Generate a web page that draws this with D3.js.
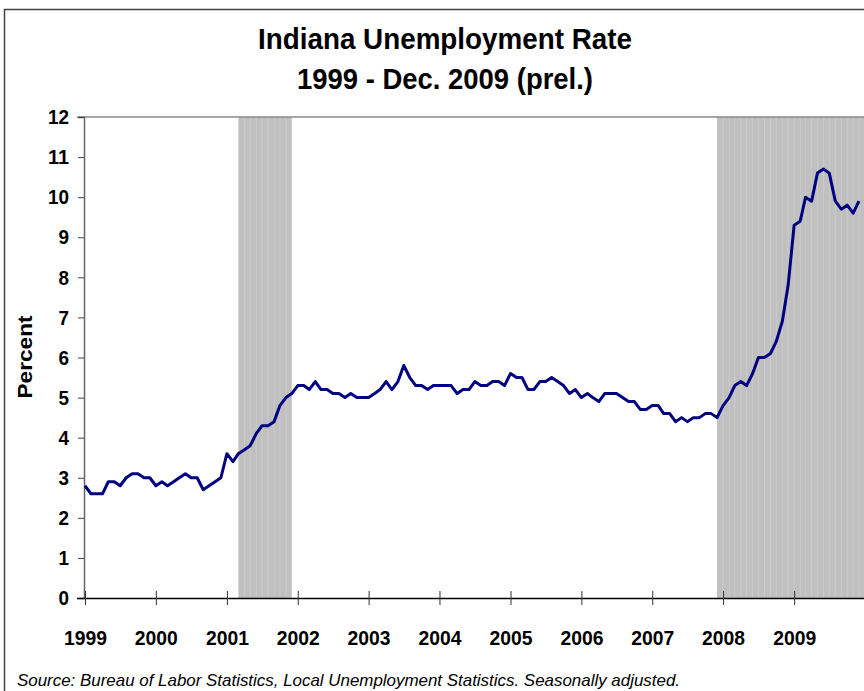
<!DOCTYPE html>
<html>
<head>
<meta charset="utf-8">
<script src="https://cdn.jsdelivr.net/npm/d3@7"></script>
<style>
  body { margin: 0; background: #fff; }
  svg { display: block; }
</style>
</head>
<body>
<div id="chart"></div>
<script>
// 月度失业率 1999.01 - 2009.12
var rates1999 = [2.8, 2.6, 2.6, 2.6, 2.9, 2.9, 2.8, 3.0, 3.1, 3.1, 3.0, 3.0]
var rates2000 = [2.8, 2.9, 2.8, 2.9, 3.0, 3.1, 3.0, 3.0, 2.7, 2.8, 2.9, 3.0]
var rates2001 = [3.6, 3.4, 3.6, 3.7, 3.8, 4.1, 4.3, 4.3, 4.4, 4.8, 5.0, 5.1]
var rates2002 = [5.3, 5.3, 5.2, 5.4, 5.2, 5.2, 5.1, 5.1, 5.0, 5.1, 5.0, 5.0]
var rates2003 = [5.0, 5.1, 5.2, 5.4, 5.2, 5.4, 5.8, 5.5, 5.3, 5.3, 5.2, 5.3]
var rates2004 = [5.3, 5.3, 5.3, 5.1, 5.2, 5.2, 5.4, 5.3, 5.3, 5.4, 5.4, 5.3]
var rates2005 = [5.6, 5.5, 5.5, 5.2, 5.2, 5.4, 5.4, 5.5, 5.4, 5.3, 5.1, 5.2]
var rates2006 = [5.0, 5.1, 5.0, 4.9, 5.1, 5.1, 5.1, 5.0, 4.9, 4.9, 4.7, 4.7]
var rates2007 = [4.8, 4.8, 4.6, 4.6, 4.4, 4.5, 4.4, 4.5, 4.5, 4.6, 4.6, 4.5]
var rates2008 = [4.8, 5.0, 5.3, 5.4, 5.3, 5.6, 6.0, 6.0, 6.1, 6.4, 6.9, 7.8]
var rates2009 = [9.3, 9.4, 10.0, 9.9, 10.6, 10.7, 10.6, 9.9, 9.7, 9.8, 9.6, 9.9]

var years = [1999, 2000, 2001, 2002, 2003, 2004, 2005, 2006, 2007, 2008, 2009]
var yTicks = [0, 1, 2, 3, 4, 5, 6, 7, 8, 9, 10, 11, 12]
// 衰退期
var recessions = [
  { start: '2001-03-01', end: '2001-12-01' },
  { start: '2007-12-01', end: '2010-01-01' },
]

var titleText = 'Indiana Unemployment Rate'
var subtitleText = '1999 - Dec. 2009 (prel.)'
var yTitle = 'Percent'
var sourceText = 'Source: Bureau of Labor Statistics, Local Unemployment Statistics. Seasonally adjusted.'

var allRates = [].concat(rates1999, rates2000, rates2001, rates2002, rates2003,
  rates2004, rates2005, rates2006, rates2007, rates2008, rates2009)
var data = allRates.map(function(v, i) {
  return { date: new Date(years[0], i, 1), rate: v }
})

var width = 864, height = 691
var font = '"Liberation Sans", Arial, sans-serif'

var svg = d3.select('#chart')
  .append('svg')
  .attr('width', width)
  .attr('height', height)

// 外框
svg.append('rect')
  .attr('x', 4.5)
  .attr('y', 9.5)
  .attr('width', 900)
  .attr('height', 700)
  .attr('fill', '#fff')
  .attr('stroke', '#444')
  .attr('stroke-width', 1.5)

var x = d3.scaleTime()
  .domain([new Date(1999, 0, 1), new Date(2010, 0, 1)])
  .range([85, 865])
var y = d3.scaleLinear()
  .domain([0, 12])
  .range([598, 117])

var parseDay = d3.timeParse('%Y-%m-%d')

// 衰退阴影
recessions.forEach(function(r) {
  var s = parseDay(r.start), e = parseDay(r.end)
  svg.append('rect')
    .attr('x', x(s))
    .attr('y', y(12))
    .attr('width', x(e) - x(s))
    .attr('height', y(0) - y(12))
    .attr('fill', '#c0c0c0')
  svg.selectAll(null)
    .data(d3.timeMonth.range(d3.timeMonth.offset(s, 1), e))
    .enter()
    .append('line')
    .attr('x1', function(d) { return x(d) })
    .attr('x2', function(d) { return x(d) })
    .attr('y1', y(12))
    .attr('y2', y(0))
    .attr('stroke', '#cbcbcb')
    .attr('stroke-width', 1)
})

// 顶部边线
svg.append('line')
  .attr('x1', 77).attr('x2', 870)
  .attr('y1', y(12)).attr('y2', y(12))
  .attr('stroke', '#888')
  .attr('stroke-width', 1.5)

// y 轴
var yAxis = svg.append('g')
  .attr('transform', 'translate(84,0)')
  .call(d3.axisLeft(y).tickValues(yTicks).tickSize(6).tickPadding(9).tickFormat(d3.format('d')))
yAxis.select('.domain').attr('stroke', '#666').attr('stroke-width', 1.5)
yAxis.selectAll('.tick line').attr('stroke', '#444')
yAxis.selectAll('.tick text')
  .attr('fill', '#000')
  .attr('font-family', font)
  .attr('font-weight', 'bold')
  .attr('font-size', '21px')
  .attr('textLength', function(d) { return String(d).length * 10.5 })
  .attr('lengthAdjust', 'spacingAndGlyphs')

// x 轴
var xAxis = svg.append('g')
  .attr('transform', 'translate(0,' + y(0) + ')')
  .call(d3.axisBottom(x)
    .tickValues(years.map(function(yr) { return new Date(yr, 0, 1) }))
    .tickSize(7).tickPadding(25).tickFormat(d3.timeFormat('%Y')))
xAxis.select('.domain').attr('d', 'M77,0.5H870').attr('stroke', '#000').attr('stroke-width', 1.5)
xAxis.selectAll('.tick line').attr('y1', -7).attr('stroke', '#333')
xAxis.selectAll('.tick text')
  .attr('fill', '#000')
  .attr('font-family', font)
  .attr('font-weight', 'bold')
  .attr('font-size', '21px')
  .attr('textLength', 43)
  .attr('lengthAdjust', 'spacingAndGlyphs')

// 折线
var line = d3.line()
  .x(function(d) { return x(d.date) })
  .y(function(d) { return y(d.rate) })
svg.append('path')
  .datum(data)
  .attr('fill', 'none')
  .attr('stroke', '#000080')
  .attr('stroke-width', 3)
  .attr('stroke-linejoin', 'round')
  .attr('d', line)

// 标题
svg.append('text')
  .attr('x', 445).attr('y', 49)
  .attr('text-anchor', 'middle')
  .attr('font-family', font)
  .attr('font-weight', 'bold')
  .attr('font-size', '30px')
  .attr('textLength', 374)
  .attr('lengthAdjust', 'spacingAndGlyphs')
  .text(titleText)
svg.append('text')
  .attr('x', 445).attr('y', 89)
  .attr('text-anchor', 'middle')
  .attr('font-family', font)
  .attr('font-weight', 'bold')
  .attr('font-size', '30px')
  .attr('textLength', 296)
  .attr('lengthAdjust', 'spacingAndGlyphs')
  .text(subtitleText)

svg.append('text')
  .attr('transform', 'translate(32,357) rotate(-90)')
  .attr('text-anchor', 'middle')
  .attr('font-family', font)
  .attr('font-weight', 'bold')
  .attr('font-size', '20px')
  .attr('textLength', 83)
  .attr('lengthAdjust', 'spacingAndGlyphs')
  .text(yTitle)

svg.append('text')
  .attr('x', 17).attr('y', 686)
  .attr('font-family', font)
  .attr('font-style', 'italic')
  .attr('font-size', '17px')
  .attr('textLength', 663)
  .attr('lengthAdjust', 'spacingAndGlyphs')
  .text(sourceText)
</script>
</body>
</html>
